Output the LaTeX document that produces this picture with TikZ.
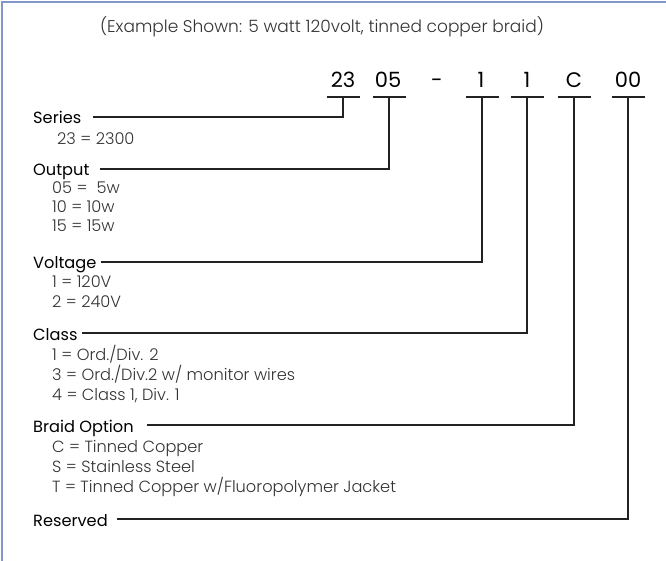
\documentclass[tikz,border=0pt]{standalone}
\usepackage{fontspec}
\setmainfont{Poppins}
\newfontfamily\lightfont{Poppins Light}
\usetikzlibrary{calc}
\definecolor{frameblue}{HTML}{8097C8}
\definecolor{linegray}{HTML}{222222}
\definecolor{itemgray}{HTML}{333333}
\tikzset{
  lbl/.style={anchor=base west, inner sep=0pt, font=\fontsize{16.2}{18}\selectfont, text=black},
  item/.style={anchor=base west, inner sep=0pt, font=\lightfont\fontsize{16.2}{18}\selectfont, text=itemgray},
  code/.style={anchor=base, inner sep=0pt, font=\fontsize{21}{23}\selectfont, text=black},
  conn/.style={draw=linegray, line width=1.7pt},
}
\begin{document}
\begin{tikzpicture}[x=1pt,y=-1pt]
\useasboundingbox (0,0) rectangle (666,561);
\begin{scope}
\clip (0,0) rectangle (666,561);
\draw[frameblue, line width=2pt] (2,2) rectangle (700,600);
\end{scope}
\node[item, anchor=base, font=\lightfont\fontsize{17}{19}\selectfont] (title) at (322,33) {(Example Shown: 5 watt 120volt, tinned copper braid)};
% code characters
\node[code] (c23) at (343,88) {23};
\node[code] (c05) at (388,88) {05};
\node[code] (cdash) at (437,88) {-};
\node[code] (c1a) at (481,88) {1};
\node[code] (c1b) at (527,88) {1};
\node[code] (cC) at (574,88) {C};
\node[code] (c00) at (628,88) {00};
\foreach \n/\x in {b23/343,b05/389,b1a/482,b1b/527,bC/574,b00/628}{
  \coordinate (\n) at (\x,97);
  \draw[conn] ([xshift=-16.5pt]\n) -- ([xshift=16.5pt]\n);
}
% labels
\node[lbl] (series) at (33,124) {Series};
\node[lbl] (output) at (33,176) {Output};
\node[lbl] (voltage) at (33,269) {Voltage};
\node[lbl] (class) at (33,340) {Class};
\node[lbl] (braid) at (33,432) {Braid Option};
\node[lbl] (reserved) at (33,526) {Reserved};
% items
\node[item] (s1) at (57,145) {23 = 2300};
\node[item] (o1) at (52,194) {05 = \hphantom{1}5w};
\node[item] (o2) at (52,213) {10 = 10w};
\node[item] (o3) at (52,232) {15 = 15w};
\node[item] (v1) at (52,287) {1 = 120V};
\node[item] (v2) at (52,307) {2 = 240V};
\node[item] (k1) at (52,360) {1 = Ord./Div. 2};
\node[item] (k2) at (52,380) {3 = Ord./Div.2 w/ monitor wires};
\node[item] (k3) at (52,400) {4 = Class 1, Div. 1};
\node[item] (r1) at (52,452) {C = Tinned Copper};
\node[item] (r2) at (52,472) {S = Stainless Steel};
\node[item] (r3) at (52,492) {T = Tinned Copper w/Fluoropolymer Jacket};
% connectors
\draw[conn] ($(series.base west)+(60,-7)$) -| (b23);
\draw[conn] ($(output.base west)+(67,-7)$) -| (b05);
\draw[conn] ($(voltage.base east)+(4,-7)$) -| (b1a);
\draw[conn] ($(class.base west)+(49,-7)$) -| (b1b);
\draw[conn] ($(braid.base west)+(114,-7)$) -| (bC);
\draw[conn] ($(reserved.base west)+(84,-7)$) -| (b00);
\end{tikzpicture}
\end{document}
